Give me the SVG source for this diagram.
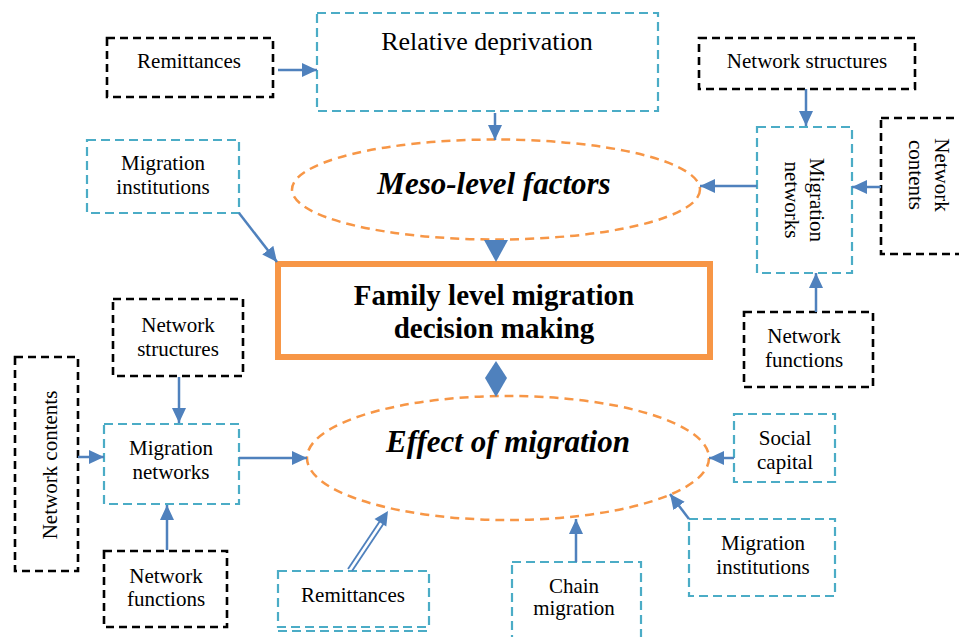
<svg xmlns="http://www.w3.org/2000/svg" width="959" height="637" viewBox="0 0 959 637">
  <defs>
    <style>
      .cy { fill: #fff; stroke: #4BACC6; stroke-width: 2.2; stroke-dasharray: 9 5; }
      .bk { fill: #fff; stroke: #000; stroke-width: 2.6; stroke-dasharray: 8 5; }
      .ov { fill: none; stroke: #F79646; stroke-width: 2.5; stroke-dasharray: 9 6; }
      text { font-family: 'Liberation Serif', 'DejaVu Serif', serif; fill: #000; text-anchor: middle; }
      .lbl { font-size: 21px; }
      .big { font-size: 26px; }
      .hd { font-weight: bold; font-style: italic; font-size: 31px; }
      .core { font-weight: bold; font-size: 29px; }
      .ln { stroke: #4F81BD; stroke-width: 2.5; fill: none; marker-end: url(#ah); }
      .hf { fill: #4F81BD; }
    </style>
    <marker id="ah" markerUnits="userSpaceOnUse" markerWidth="16" markerHeight="16" viewBox="0 0 16 16" refX="15" refY="8" orient="auto">
      <path d="M0,1 L15,8 L0,15 z" fill="#4F81BD"/>
    </marker>
  </defs>

  <rect width="959" height="637" fill="#fff"/>

  <!-- ellipses -->
  <g id="meso">
    <ellipse class="ov" cx="496" cy="189.5" rx="204" ry="50"/>
    <text class="hd" x="494" y="194">Meso-level factors</text>
  </g>
  <g id="effect">
    <ellipse class="ov" cx="508" cy="458" rx="201" ry="62"/>
    <text class="hd" x="508" y="452">Effect of migration</text>
  </g>

  <!-- central decision node -->
  <g id="family">
    <rect x="278" y="264" width="432" height="93" fill="#fff" stroke="#F79646" stroke-width="6"/>
    <text class="core" x="494" y="305">Family level migration</text>
    <text class="core" x="494" y="338">decision making</text>
  </g>

  <!-- upper nodes -->
  <g id="relative-deprivation">
    <rect class="cy" x="317" y="13" width="341" height="98"/>
    <text class="big" x="487" y="50">Relative deprivation</text>
  </g>
  <g id="remittances-top">
    <rect class="bk" x="107" y="38" width="166" height="59"/>
    <text class="lbl" x="189" y="68">Remittances</text>
  </g>
  <g id="institutions-top">
    <rect class="cy" x="87" y="140" width="152" height="73"/>
    <text class="lbl" x="163" y="170">Migration</text>
    <text class="lbl" x="163" y="194">institutions</text>
  </g>
  <g id="structures-right">
    <rect class="bk" x="699" y="38" width="216" height="51"/>
    <text class="lbl" x="807" y="68">Network structures</text>
  </g>
  <g id="networks-right">
    <rect class="cy" x="757" y="127" width="95" height="146"/>
    <g transform="translate(805,200) rotate(90)">
      <text class="lbl" x="0" y="-5">Migration</text>
      <text class="lbl" x="0" y="20">networks</text>
    </g>
  </g>
  <g id="contents-right">
    <rect class="bk" x="881" y="118" width="90" height="136"/>
    <g transform="translate(920,175) rotate(90)">
      <text class="lbl" x="0" y="-15">Network</text>
      <text class="lbl" x="0" y="11">contents</text>
    </g>
  </g>
  <g id="functions-right">
    <rect class="bk" x="744" y="312" width="129" height="75"/>
    <text class="lbl" x="804" y="343">Network</text>
    <text class="lbl" x="804" y="367">functions</text>
  </g>

  <!-- lower-left nodes -->
  <g id="structures-left">
    <rect class="bk" x="113" y="299" width="130" height="77"/>
    <text class="lbl" x="178" y="332">Network</text>
    <text class="lbl" x="178" y="356">structures</text>
  </g>
  <g id="contents-left">
    <rect class="bk" x="15" y="357" width="63" height="214"/>
    <g transform="translate(52,465) rotate(-90)">
      <text class="lbl" x="0" y="5">Network contents</text>
    </g>
  </g>
  <g id="networks-left">
    <rect class="cy" x="104" y="424" width="135" height="80"/>
    <text class="lbl" x="171" y="455">Migration</text>
    <text class="lbl" x="171" y="479">networks</text>
  </g>
  <g id="functions-left">
    <rect class="bk" x="104" y="551" width="123" height="76"/>
    <text class="lbl" x="166" y="583">Network</text>
    <text class="lbl" x="166" y="606">functions</text>
  </g>

  <!-- lower nodes -->
  <g id="remittances-bottom">
    <rect class="cy" x="278" y="571" width="151" height="56"/>
    <line class="cy" x1="278" y1="631" x2="429" y2="631"/>
    <text class="lbl" x="353" y="602">Remittances</text>
  </g>
  <g id="chain-migration">
    <rect class="cy" x="512" y="562" width="129" height="80"/>
    <text class="lbl" x="574" y="593">Chain</text>
    <text class="lbl" x="574" y="615">migration</text>
  </g>
  <g id="institutions-bottom">
    <rect class="cy" x="689" y="519" width="146" height="77"/>
    <text class="lbl" x="763" y="550">Migration</text>
    <text class="lbl" x="763" y="574">institutions</text>
  </g>
  <g id="social-capital">
    <rect class="cy" x="734" y="414" width="101" height="68"/>
    <text class="lbl" x="785" y="445">Social</text>
    <text class="lbl" x="785" y="469">capital</text>
  </g>

  <!-- connectors -->
  <g id="connectors">
    <line class="ln" x1="278" y1="70" x2="317" y2="70"/>
    <line class="ln" x1="495" y1="113" x2="495" y2="140"/>
    <line class="ln" x1="806" y1="89" x2="806" y2="126"/>
    <line class="ln" x1="757" y1="186" x2="700" y2="186"/>
    <line class="ln" x1="881" y1="187" x2="852" y2="187"/>
    <line class="ln" x1="816" y1="312" x2="816" y2="273"/>
    <line class="ln" x1="239" y1="213" x2="277" y2="262"/>
    <polygon class="hf" points="484,240 508,240 496,262"/>
    <polygon class="hf" points="496,361 507,378 496,397 485,378"/>
    <line class="ln" x1="179" y1="377" x2="179" y2="423"/>
    <line class="ln" x1="78" y1="457" x2="104" y2="457"/>
    <line class="ln" x1="239" y1="458" x2="307" y2="458"/>
    <line class="ln" x1="167" y1="550" x2="167" y2="505"/>
    <!-- double-line shaft with solid head -->
    <line stroke="#4F81BD" stroke-width="1.8" x1="348" y1="569" x2="380" y2="521"/>
    <line stroke="#4F81BD" stroke-width="1.8" x1="352" y1="571" x2="384" y2="523"/>
    <polygon class="hf" points="388,511 386.3,526.6 374.5,519"/>
    <line class="ln" x1="576" y1="562" x2="576" y2="519"/>
    <line class="ln" x1="689" y1="519" x2="670" y2="494"/>
    <line class="ln" x1="734" y1="458" x2="709" y2="458"/>
  </g>
</svg>
